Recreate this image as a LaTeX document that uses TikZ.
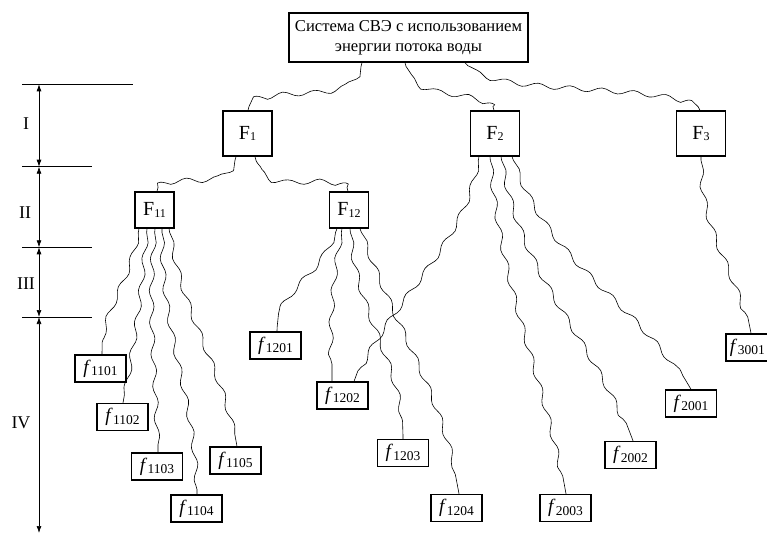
\documentclass[tikz,border=0pt]{standalone}
\usepackage{fontspec}
\setmainfont{Liberation Serif}
\usetikzlibrary{decorations.pathmorphing,arrows.meta}
\newcommand{\bigF}[1]{\fontsize{20}{20}\selectfont F\raisebox{-0.2ex}{\fontsize{12}{12}\selectfont #1}}
\newcommand{\smallf}[1]{\fontsize{19}{19}\selectfont\textit{f}\kern0.5pt\raisebox{-0.3ex}{\fontsize{13.5}{13.5}\selectfont #1}}
\begin{document}
\begin{tikzpicture}[x=1pt,y=-1pt,
  box/.style={draw,line width=1.3pt,inner sep=0pt,fill=white},
  topbox/.style={box,minimum width=239pt,minimum height=49pt,align=center,font=\fontsize{16.6}{20}\selectfont},
  Fbox/.style={box,minimum width=49pt,minimum height=45pt},
  Fsub/.style={box,minimum width=39pt,minimum height=36pt},
  fbox/.style={box,minimum width=51pt,minimum height=27pt},
  wave/.style={draw,line width=0.6pt,decorate,decoration={snake,amplitude=2.4pt,segment length=32pt,pre length=4pt,post length=4pt}},
  scaleline/.style={line width=0.7pt},
  dimarrow/.style={line width=0.7pt,{Latex[length=7pt,width=5pt]}-{Latex[length=7pt,width=5pt]}},
  lvl/.style={font=\fontsize{18}{18}\selectfont}
]
\useasboundingbox (0,0) rectangle (767,534);

% scale
\coordinate (a0) at (39,84.3);
\coordinate (a1) at (39,166.7);
\coordinate (a2) at (39,247.3);
\coordinate (a3) at (39,317);
\coordinate (a4) at (39,533);
\coordinate (l0a) at (22,84.3); \coordinate (l0b) at (133,84.3);
\coordinate (l1a) at (22,166.7); \coordinate (l1b) at (92,166.7);
\coordinate (l2a) at (22,247.3); \coordinate (l2b) at (92,247.3);
\coordinate (l3a) at (22,317); \coordinate (l3b) at (92,317);
\draw[scaleline] (l0a) -- (l0b);
\draw[scaleline] (l1a) -- (l1b);
\draw[scaleline] (l2a) -- (l2b);
\draw[scaleline] (l3a) -- (l3b);
\draw[dimarrow] (a0) -- (a1);
\draw[dimarrow] (a1) -- (a2);
\draw[dimarrow] (a2) -- (a3);
\draw[dimarrow] (a3) -- (a4);
\node[lvl] (nI) at (26,124) {I};
\node[lvl] (nII) at (25,213) {II};
\node[lvl] (nIII) at (26,284) {III};
\node[lvl] (nIV) at (21,423) {IV};

% nodes
\node[topbox] (top) at (408.5,37.5) {Система СВЭ с использованием\\энергии потока воды};
\node[Fbox] (F1) at (247.5,133.5) {\bigF{1}};
\node[Fbox] (F2) at (495,133.5) {\bigF{2}};
\node[Fbox] (F3) at (701,133.5) {\bigF{3}};
\node[Fsub] (F11) at (154.5,210) {\bigF{11}};
\node[Fsub] (F12) at (349,210) {\bigF{12}};

\node[fbox] (f1101) at (100.5,368.5) {\smallf{1101}};
\node[fbox] (f1102) at (122.5,417) {\smallf{1102}};
\node[fbox] (f1103) at (157,466.5) {\smallf{1103}};
\node[fbox] (f1104) at (196.5,508.5) {\smallf{1104}};
\node[fbox] (f1105) at (235.5,460.5) {\smallf{1105}};
\node[fbox] (f1201) at (275.5,345.5) {\smallf{1201}};
\node[fbox] (f1202) at (342.5,395.5) {\smallf{1202}};
\node[fbox] (f1203) at (403,453) {\smallf{1203}};
\node[fbox] (f1204) at (456.5,508) {\smallf{1204}};
\node[fbox] (f2001) at (691,403.5) {\smallf{2001}};
\node[fbox] (f2002) at (630.5,455) {\smallf{2002}};
\node[fbox] (f2003) at (565.5,508) {\smallf{2003}};
\node[fbox,minimum width=42.5pt] (f3001) at (747.3,347.5) {\smallf{3001}};

% connectors
\path[wave] ([xshift=-46.5pt]top.south) to[out=-100,in=80,looseness=0.9] ([xshift=0.5pt]F1.north);
\path[wave] ([xshift=-3.5pt]top.south) to[out=-80,in=100,looseness=0.9] ([xshift=-1pt]F2.north);
\path[wave] ([xshift=56.5pt]top.south) .. controls +(20,30) and +(-10,-35) .. ([xshift=-1pt]F3.north);

\path[wave] ([xshift=-11.5pt]F1.south) to[out=-100,in=80] ([xshift=2.5pt]F11.north);
\path[wave] ([xshift=7.5pt]F1.south) to[out=-80,in=100] ([xshift=-1pt]F12.north);

\path[wave] ([xshift=-15.5pt]F11.south) to[out=-100,in=90] ([xshift=1.5pt]f1101.north);
\path[wave] ([xshift=-7.5pt]F11.south) to[out=-95,in=80] ([xshift=0.5pt]f1102.north);
\path[wave] ([xshift=0.5pt]F11.south) to[out=-95,in=90] ([xshift=1pt]f1103.north);
\path[wave] ([xshift=7.5pt]F11.south) to[out=-90,in=90] ([xshift=0.5pt]f1104.north);
\path[wave] ([xshift=14.5pt]F11.south) to[out=-80,in=100] ([xshift=1.5pt]f1105.north);

\path[wave] ([xshift=-12pt]F12.south) to[out=-110,in=90] ([xshift=1.5pt]f1201.north);
\path[wave] ([xshift=-7pt]F12.south) to[out=-100,in=90] ([xshift=-10.5pt]f1202.north);
\path[wave] ([xshift=1pt]F12.south) to[out=-85,in=90] (f1203.north);
\path[wave] ([xshift=11pt]F12.south) to[out=-70,in=100] ([xshift=2.5pt]f1204.north);

\path[wave] ([xshift=-16pt]F2.south) to[out=-100,in=70,looseness=0.9] ([xshift=11.5pt]f1202.north);
\path[wave] ([xshift=-5pt]F2.south) to[out=-85,in=100] ([xshift=0.5pt]f2003.north);
\path[wave] ([xshift=6pt]F2.south) to[out=-80,in=110] ([xshift=2.5pt]f2002.north);
\path[wave] ([xshift=17pt]F2.south) to[out=-70,in=120] (f2001.north);

\path[wave] (F3.south) to[out=-90,in=100] ([xshift=3.7pt]f3001.north);
\end{tikzpicture}
\end{document}
